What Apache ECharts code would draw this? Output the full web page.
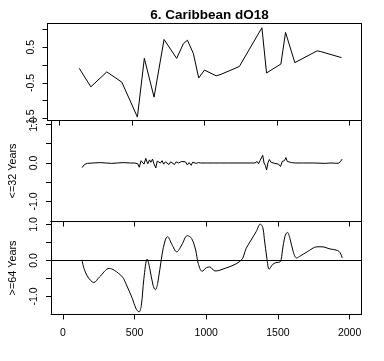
<!DOCTYPE html>
<html>
<head>
<meta charset="utf-8">
<script src="https://cdn.jsdelivr.net/npm/echarts@6/dist/echarts.min.js"></script>
<style>
html,body{margin:0;padding:0;background:#fff;}
#chart{width:384px;height:361px;}
</style>
</head>
<body>
<div id="chart"></div>
<script>
// ---- data ----
var titleText = '6. Caribbean dO18';
var panelNames = ['', '<=32 Years', '>=64 Years'];
var xTicks = [0, 500, 1000, 1500, 2000];
var topYTicks = [-1.5, -1, -0.5, 0, 0.5, 1];
var topYLabels = [-1.5, -0.5, 0.5];
var lowYTicks = [-1, -0.5, 0, 0.5, 1];
var lowYLabels = [-1, 0, 1];

var topYears = [136,216,326,430,537,585,596,652,721,808,854,882,923,960,1000,1080,1107,1240,1396,1428,1527,1559,1623,1777,1802,1945];
var topValues = [-0.09,-0.61,-0.19,-0.48,-1.46,0.19,0.14,-0.90,0.72,0.19,0.60,0.70,0.33,-0.36,-0.14,-0.30,-0.27,-0.04,1.05,-0.22,0.03,0.92,0.07,0.40,0.38,0.21];

var midYears = [134,150,170,210,260,300,340,380,420,470,500,512,522,533,545,556,566,578,585,592,604,614,625,635,648,658,668,680,692,703,715,728,740,752,765,778,790,805,818,830,842,855,868,880,895,905,918,930,945,960,1000,1050,1100,1150,1200,1250,1300,1340,1355,1365,1375,1385,1394,1403,1413,1421,1430,1440,1452,1465,1478,1490,1505,1518,1530,1545,1556,1565,1578,1595,1620,1680,1750,1830,1870,1920,1935,1948];
var midValues = [-0.12,-0.04,-0.01,0.0,0.01,0.0,-0.01,0.0,0.01,0.0,0.0,0.04,-0.02,-0.11,0.06,0.09,-0.03,0.12,0.17,-0.02,0.08,0.02,0.10,-0.02,-0.13,0.05,0.08,0.0,0.06,-0.03,0.03,-0.01,-0.04,0.03,0.01,-0.04,0.03,0.0,-0.02,0.04,-0.01,0.03,-0.05,0.01,-0.06,0.02,0.04,-0.01,0.01,0.0,0.0,0.0,0.0,0.0,0.0,0.0,0.0,0.0,0.04,-0.02,0.06,0.03,0.20,0.0,-0.07,-0.18,0.0,0.09,0.02,0.05,-0.01,0.03,-0.03,-0.09,0.04,0.06,0.14,0.04,0.0,0.01,0.0,0.0,0.0,-0.01,0.0,-0.01,0.03,0.10];

var lowYears = [133,147,175,216,255,324,358,416,439,485,508,531,547,565,588,606,629,645,661,691,714,730,760,794,829,868,898,926,944,971,1001,1024,1061,1095,1240,1279,1313,1348,1377,1394,1405,1423,1439,1463,1486,1515,1532,1548,1566,1584,1607,1630,1658,1704,1773,1807,1864,1915,1933,1949];
var lowValues = [0.02,-0.22,-0.46,-0.61,-0.46,-0.22,-0.27,-0.46,-0.64,-1.06,-1.32,-1.43,-1.25,-0.50,0.04,-0.22,-0.69,-0.81,-0.64,0.15,0.57,0.66,0.45,0.24,0.43,0.69,0.61,0.29,-0.08,-0.30,-0.20,-0.18,-0.29,-0.27,-0.01,0.34,0.57,0.80,1.01,0.92,0.61,0.06,-0.24,-0.11,-0.06,-0.04,0.29,0.66,0.78,0.61,0.24,0.07,0.13,0.24,0.38,0.38,0.32,0.28,0.22,0.07];

function pairs(xs, ys){ return xs.map(function(x,i){ return [x, ys[i]]; }); }

var FONT = "'Liberation Sans', Arial, sans-serif";
var grids = [
  {left:47.5, top:23.5, width:314, height:97},
  {left:47.5, top:120.5, width:314, height:101},
  {left:47.5, top:221.5, width:314, height:93}
];
var yRanges = [[-1.556, 1.169], [-1.52, 1.104], [-1.5, 1.083]];
var lineSt = {color:'#000', width:1};

var xAxes = [], yAxes = [];
for (var i = 0; i < 3; i++) {
  xAxes.push({
    type:'value', gridIndex:i, min:-83, max:2083, position:'bottom',
    axisLine:{show:true, onZero:false, lineStyle:lineSt},
    splitLine:{show:false},
    axisTick:{show:true, length:5, lineStyle:lineSt, customValues:xTicks},
    axisLabel:{show:i === 2, customValues:xTicks, color:'#000', fontSize:10.5, fontFamily:FONT, margin:13,
      formatter:function(v){ return String(v); }}
  });
  xAxes.push({
    type:'value', gridIndex:i, min:-83, max:2083, position:'top',
    axisLine:{show:true, onZero:false, lineStyle:lineSt},
    splitLine:{show:false}, axisTick:{show:false}, axisLabel:{show:false}
  });
  var ticks = i === 0 ? topYTicks : lowYTicks;
  var labels = i === 0 ? topYLabels : lowYLabels;
  yAxes.push({
    type:'value', gridIndex:i, min:yRanges[i][0], max:yRanges[i][1], position:'left',
    name: panelNames[i], nameLocation:'middle', nameRotate:90, nameGap:32,
    nameTextStyle:{color:'#000', fontSize:10.8, fontFamily:FONT},
    axisLine:{show:true, onZero:false, lineStyle:lineSt},
    splitLine:{show:false},
    axisTick:{show:true, length:5, lineStyle:lineSt, customValues:ticks},
    axisLabel:{show:true, customValues:labels, rotate:90, color:'#000', fontSize:10.5, fontFamily:FONT, margin:11,
      formatter:function(v){ return v.toFixed(1); }}
  });
  yAxes.push({
    type:'value', gridIndex:i, min:yRanges[i][0], max:yRanges[i][1], position:'right',
    axisLine:{show:true, onZero:false, lineStyle:lineSt},
    splitLine:{show:false}, axisTick:{show:false}, axisLabel:{show:false}
  });
}

function lineSeries(i, xs, ys){
  return {
    type:'line', xAxisIndex:2*i, yAxisIndex:2*i, data:pairs(xs, ys),
    showSymbol:false, symbol:'none', silent:true,
    lineStyle:{color:'#000', width:1}
  };
}

var chart = echarts.init(document.getElementById('chart'), null, {renderer:'canvas'});
var lowSeries = lineSeries(2, lowYears, lowValues);
lowSeries.smooth = 0.35;
lowSeries.markLine = {silent:true, symbol:['none','none'], label:{show:false},
  lineStyle:{color:'#000', width:1, type:'solid'}, data:[{yAxis:0}], animation:false};

chart.setOption({
  animation:false,
  backgroundColor:'#fff',
  title:{text:titleText, left:204.5, textAlign:'center', top:3,
    textStyle:{fontFamily:FONT, fontWeight:'bold', fontSize:13.5, color:'#000'}},
  grid: grids,
  xAxis: xAxes,
  yAxis: yAxes,
  series:[lineSeries(0, topYears, topValues), lineSeries(1, midYears, midValues), lowSeries]
});
</script>
</body>
</html>
